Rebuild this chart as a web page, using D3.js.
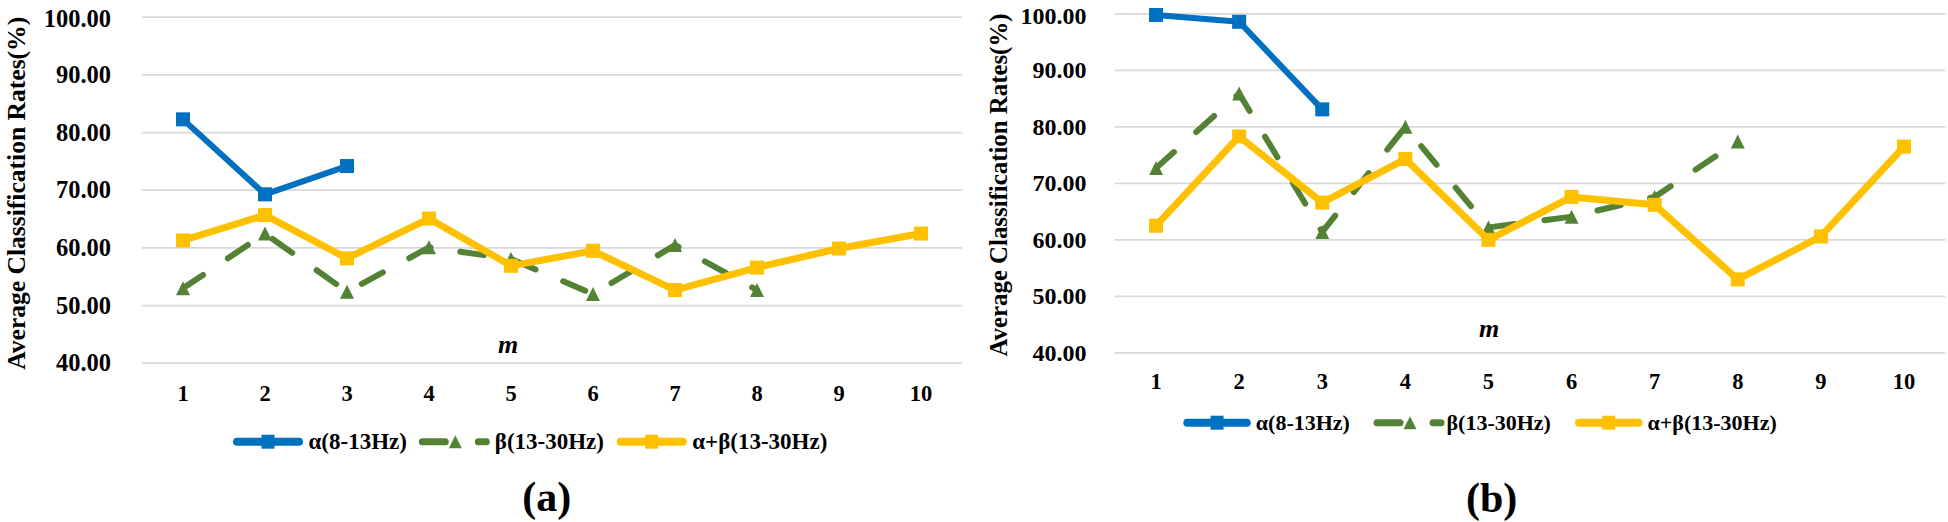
<!DOCTYPE html>
<html>
<head>
<meta charset="utf-8">
<script src="https://cdn.jsdelivr.net/npm/d3@7"></script>
<style>
  html, body { margin: 0; padding: 0; background: #ffffff; }
  svg { display: block; }
  text { font-family: "Liberation Serif", "Times New Roman", "DejaVu Serif", serif; font-weight: bold; fill: #000; }
</style>
</head>
<body>
<svg id="chart" width="1948" height="522"></svg>
<script>
// ---------------- data ----------------
const categories = ["1", "2", "3", "4", "5", "6", "7", "8", "9", "10"];
const yTicks = [40, 50, 60, 70, 80, 90, 100];
const seriesNames = ["α(8-13Hz)", "β(13-30Hz)", "α+β(13-30Hz)"];
const panelLabels = ["(a)", "(b)"];
const yTitle = "Average  Classification  Rates(%)";
const xTitle = "m";

// panel (a)
const alphaA = [82.2, 69.2, 74.1];
const betaA = [52.9, 62.4, 52.3, 60.0, 58.0, 51.9, 60.4, 52.6];
const alphaBetaA = [61.2, 65.6, 58.1, 65.0, 56.8, 59.4, 52.6, 56.5, 59.8, 62.4];

// panel (b)
const alphaB = [99.7, 98.5, 83.0];
const betaB = [72.6, 85.8, 61.3, 79.9, 62.1, 64.0, 67.5, 77.3];
const alphaBetaB = [62.4, 78.2, 66.5, 74.2, 59.9, 67.5, 66.1, 52.9, 60.5, 76.4];

// ---------------- styles ----------------
const colors = ["#0070C0", "#548235", "#FFC000"];
const lineWidths = [6, 6, 7];

// ---------------- layout ----------------
const panels = [
  {
    label: panelLabels[0], series: [alphaA, betaA, alphaBetaA],
    left: 142, right: 962, top: 16.7, bottom: 362.7,
    tickFont: 24.5, tickPad: 31, xTickY: 393, xFont: 22.5,
    titleX: 25, titleCY: 193.3, titleLen: 353, titleFont: 25,
    mX: 508, mY: 352.7,
    legY: 441.7, legStarts: [233, 419.3, 616.7], legLineLen: 70, legTextOff: 75.5, legFont: 23,
    labX: 546.7, labY: 511
  },
  {
    label: panelLabels[1], series: [alphaB, betaB, alphaBetaB],
    left: 1114.5, right: 1945.5, top: 13.3, bottom: 352.3,
    tickFont: 24, tickPad: 28, xTickY: 381.7, xFont: 22.5,
    titleX: 1007, titleCY: 185, titleLen: 343, titleFont: 24.5,
    mX: 1489, mY: 337,
    legY: 422.7, legStarts: [1183.3, 1374, 1575], legLineLen: 67.5, legTextOff: 72.5, legFont: 22,
    labX: 1491.7, labY: 512
  }
];

const svg = d3.select("#chart");

function triPath(cx, cy, s) {
  const h = s / 2;
  return `M${cx},${cy - h}L${cx + h},${cy + h}L${cx - h},${cy + h}Z`;
}

panels.forEach(p => {
  const g = svg.append("g");
  const x = d3.scaleBand().domain(categories).range([p.left, p.right]).padding(0);
  const y = d3.scaleLinear().domain([40, 100]).range([p.bottom, p.top]);
  const cx = i => x(categories[i]) + x.bandwidth() / 2;

  // y axis with gridlines
  const yAxis = d3.axisLeft(y).tickValues(yTicks)
    .tickSize(-(p.right - p.left)).tickPadding(p.tickPad)
    .tickFormat(d => d.toFixed(2));
  const ya = g.append("g").attr("transform", `translate(${p.left},0)`).call(yAxis);
  ya.select(".domain").remove();
  ya.selectAll(".tick line").attr("stroke", "#D9D9D9").attr("stroke-width", 1.8);
  ya.selectAll(".tick text")
    .attr("font-size", p.tickFont)
    .attr("dy", null)
    .attr("y", d => (d === 100 ? 1.6 : 0) + 0.338 * p.tickFont)
    .style("font-family", "'Liberation Serif','Times New Roman',serif")
    .style("font-weight", "bold").attr("fill", "#000");

  // x axis labels
  const xAxis = d3.axisBottom(x).tickSize(0).tickPadding(0);
  const xa = g.append("g").attr("transform", `translate(0,${p.xTickY})`).call(xAxis);
  xa.select(".domain").remove();
  xa.selectAll(".tick text")
    .attr("font-size", p.xFont)
    .attr("dy", null)
    .attr("y", 0.338 * p.xFont)
    .style("font-family", "'Liberation Serif','Times New Roman',serif")
    .style("font-weight", "bold").attr("fill", "#000");

  // y title
  g.append("text")
    .attr("transform", `translate(${p.titleX},${p.titleCY}) rotate(-90)`)
    .attr("text-anchor", "middle")
    .attr("font-size", p.titleFont)
    .attr("textLength", p.titleLen)
    .attr("lengthAdjust", "spacingAndGlyphs")
    .text(yTitle);

  // x title "m"
  g.append("text")
    .attr("x", p.mX).attr("y", p.mY)
    .attr("text-anchor", "middle")
    .attr("font-size", 26)
    .attr("font-style", "italic")
    .text(xTitle);

  // series
  const line = d3.line().x((d, i) => cx(i)).y(d => y(d));
  p.series.forEach((data, si) => {
    const sg = g.append("g");
    const path = sg.append("path")
      .attr("d", line(data))
      .attr("fill", "none")
      .attr("stroke", colors[si])
      .attr("stroke-width", lineWidths[si])
      .attr("stroke-linejoin", "round")
      .attr("stroke-linecap", "round");
    if (si === 1) {
      path.attr("stroke-dasharray", "24,30");
      sg.selectAll("path.mk").data(data).enter().append("path")
        .attr("class", "mk")
        .attr("d", (d, i) => triPath(cx(i), y(d), 14))
        .attr("fill", colors[si]);
    } else {
      sg.selectAll("rect.mk").data(data).enter().append("rect")
        .attr("class", "mk")
        .attr("x", (d, i) => cx(i) - 7)
        .attr("y", d => y(d) - 7)
        .attr("width", 14).attr("height", 14)
        .attr("fill", colors[si]);
    }
  });

  // legend
  const lg = g.append("g");
  seriesNames.forEach((name, si) => {
    const x0 = p.legStarts[si];
    const ly = p.legY;
    const it = lg.append("g");
    if (si === 1) {
      it.append("line").attr("x1", x0 + 3).attr("x2", x0 + 26)
        .attr("y1", ly).attr("y2", ly)
        .attr("stroke", colors[si]).attr("stroke-width", 7).attr("stroke-linecap", "round");
      it.append("path").attr("d", triPath(x0 + 36, ly, 13)).attr("fill", colors[si]);
      it.append("line").attr("x1", x0 + 59).attr("x2", x0 + 67)
        .attr("y1", ly).attr("y2", ly)
        .attr("stroke", colors[si]).attr("stroke-width", 7).attr("stroke-linecap", "round");
    } else {
      it.append("line").attr("x1", x0 + 4).attr("x2", x0 + p.legLineLen - 4)
        .attr("y1", ly).attr("y2", ly)
        .attr("stroke", colors[si]).attr("stroke-width", 8).attr("stroke-linecap", "round");
      it.append("rect")
        .attr("x", x0 + p.legLineLen / 2 - 6.5).attr("y", ly - 7)
        .attr("width", 13).attr("height", 14)
        .attr("fill", colors[si]);
    }
    it.append("text")
      .attr("x", x0 + p.legTextOff)
      .attr("y", ly + 0.33 * p.legFont)
      .attr("font-size", p.legFont)
      .text(name);
  });

  // panel label
  g.append("text")
    .attr("x", p.labX).attr("y", p.labY)
    .attr("text-anchor", "middle")
    .attr("font-size", 42)
    .text(p.label);
});
</script>
</body>
</html>
